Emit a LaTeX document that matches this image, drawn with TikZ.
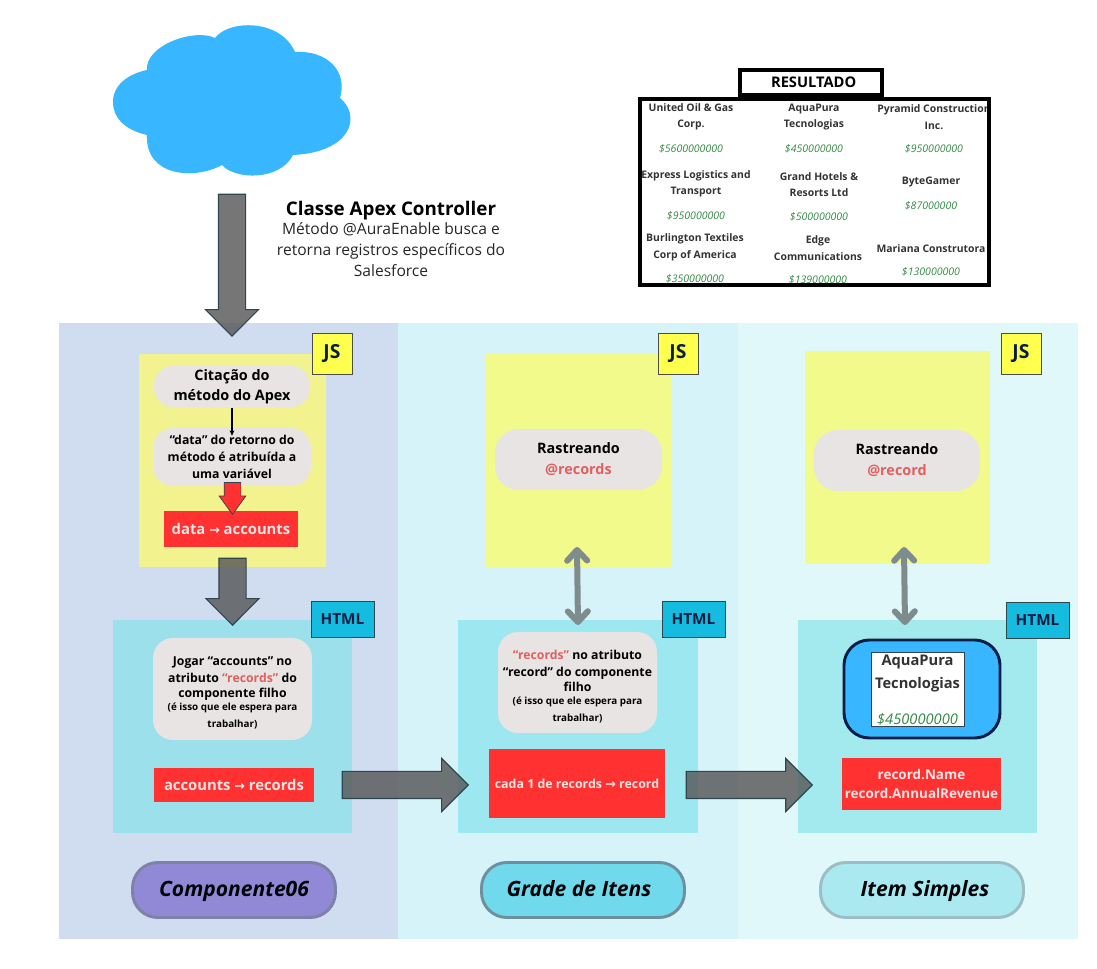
\documentclass[tikz,border=0pt]{standalone}
\usepackage{fontspec}
\setmainfont{Open Sans}
\newfontfamily\symfont{DejaVu Sans}
\usetikzlibrary{shapes.arrows,arrows.meta}
\definecolor{panelA}{HTML}{D0DCEF}
\definecolor{panelB}{HTML}{D5F3F9}
\definecolor{panelC}{HTML}{E0F8FA}
\definecolor{jsyellow}{HTML}{F2F28E}
\definecolor{jsyellowB}{HTML}{F2FA8C}
\definecolor{jstag}{HTML}{FFFF4D}
\definecolor{htmltag}{HTML}{16BCDF}
\definecolor{htmlboxA}{HTML}{9BE0EA}
\definecolor{htmlboxB}{HTML}{9DE8F0}
\definecolor{htmlboxC}{HTML}{A3EAEF}
\definecolor{bubblegray}{HTML}{E8E4E4}
\definecolor{redbox}{HTML}{FF3131}
\definecolor{redtext}{HTML}{E0605F}
\definecolor{redlight}{HTML}{F9E4E4}
\definecolor{skyblue}{HTML}{38B6FF}
\definecolor{darkedge}{HTML}{30454D}
\definecolor{navy}{HTML}{0A1E45}
\definecolor{moneygreen}{HTML}{338A44}
\definecolor{barbgray}{HTML}{7F8C8D}
\definecolor{compA}{HTML}{9188D6}
\definecolor{compAedge}{HTML}{7E82A8}
\definecolor{compB}{HTML}{70DAEC}
\definecolor{compBedge}{HTML}{6E8F9D}
\definecolor{compC}{HTML}{ABE9F1}
\definecolor{compCedge}{HTML}{9BBDC3}
\newcommand{\sized}[2]{\fontsize{#1}{#2}\selectfont}
\newcommand{\goes}{{\symfont\fontsize{9.5}{9.5}\selectfont →}}
\newcommand{\hint}{\sized{7.4}{9.75}}
\tikzset{sizebox/.style 2 args={rectangle, inner sep=0pt, minimum width=#1*0.75pt, minimum height=#2*0.75pt}}
\tikzset{bigarrow/.style 2 args={single arrow, anchor=tip, draw=darkedge, line width=0.8pt, fill=black!67, fill opacity=0.8, inner sep=0pt, inner ysep=#2*0.1875pt, minimum height=#1*0.75pt, single arrow head extend=#2*0.1875pt}}
\tikzstyle{bubble} = [fill=bubblegray, rounded corners=15pt, align=center, text=black, font=\bfseries\sized{9.2}{12.75}]
\tikzstyle{redlabel} = [fill=redbox, align=center, text=redlight, font=\bfseries\sized{11.1}{14}]
\tikzstyle{tagjs} = [fill=jstag, draw=black!70, line width=0.7pt, font=\bfseries\sized{14.5}{16}, text=navy]
\tikzstyle{taghtml} = [fill=htmltag, draw=darkedge, line width=0.7pt, font=\bfseries\sized{11.5}{14}, text=navy]
\tikzstyle{pill} = [rounded corners=19pt, line width=2.2pt, text height=12pt, text depth=3pt, font=\bfseries\itshape\sized{15.8}{18}, text=black!90!navy]
\tikzstyle{itemname} = [align=center, inner sep=0pt, text=black!80, font=\bfseries\sized{7.8}{12.4}]
\tikzstyle{itemvalue} = [inner sep=0pt, text=moneygreen, font=\itshape\sized{7.9}{9}]
\tikzstyle{link} = [line width=4.5pt, draw=barbgray, {Straight Barb[length=8pt,width=15pt,round]}-{Straight Barb[length=8pt,width=15pt,round]}]

\begin{document}
\begin{tikzpicture}[x=0.75pt,y=-0.75pt]
    \useasboundingbox (0,0) rectangle (1097,969);

    \node (panel-main) [sizebox={339}{616}, fill=panelA] at (228.5,631) {};
    \node (panel-grid) [sizebox={340}{616}, fill=panelB] at (568,631) {};
    \node (panel-item) [sizebox={340}{616}, fill=panelC] at (908,631) {};

    \fill [skyblue] (147,135) .. controls (125,130) and (113,118) .. (113,102)
        .. controls (113,85) and (128,74) .. (147,70)
        .. controls (145,45) and (195,28) .. (215,38)
        .. controls (228,20) and (280,18) .. (295,52)
        .. controls (328,50) and (348,72) .. (340,98)
        .. controls (361,115) and (353,152) .. (293,155)
        .. controls (280,181) and (235,180) .. (222,165)
        .. controls (195,180) and (145,177) .. (147,135) -- cycle;

    \node (arrow-apex) [bigarrow={142}{52}, rotate=-90] at (232,337) {};
    \node (apex-title) [font=\bfseries\sized{14.1}{16}, inner sep=0pt] at (391,211) {Classe Apex Controller};
    \node (apex-text) [align=center, font=\sized{11.7}{15.75}, inner sep=0pt, text=black!85] at (391,250) {Método @AuraEnable busca e\\retorna registros específicos do\\Salesforce};

    \node (result-title) [sizebox={142}{25}, draw, line width=2.3pt, font=\bfseries\sized{11}{12}] at (811,82.5) {\hspace{4pt}RESULTADO};
    \begin{scope}
        \clip (639,98) rectangle (990,284);
        \node (name-1) [itemname] at (691,117) {United Oil \& Gas\\Corp.};
        \node (value-1) [itemvalue] at (691,149) {\$5600000000};
        \node (name-2) [itemname] at (814,117) {AquaPura\\Tecnologias};
        \node (value-2) [itemvalue] at (814,149) {\$450000000};
        \node (name-3) [itemname] at (934,117) {Pyramid Construction\\Inc.};
        \node (value-3) [itemvalue] at (934,149) {\$950000000};
        \node (name-4) [itemname] at (696,184) {Express Logistics and\\Transport};
        \node (value-4) [itemvalue] at (696,216) {\$950000000};
        \node (name-5) [itemname] at (819,184.5) {Grand Hotels \&\\Resorts Ltd};
        \node (value-5) [itemvalue] at (819,217) {\$500000000};
        \node (name-6) [itemname] at (931,182) {ByteGamer};
        \node (value-6) [itemvalue] at (931,206) {\$87000000};
        \node (name-7) [itemname] at (695,247.5) {Burlington Textiles\\Corp of America};
        \node (value-7) [itemvalue] at (695,279) {\$350000000};
        \node (name-8) [itemname] at (818,248) {Edge\\Communications};
        \node (value-8) [itemvalue] at (818,280) {\$139000000};
        \node (name-9) [itemname] at (931,249) {Mariana Construtora};
        \node (value-9) [itemvalue] at (931,272) {\$130000000};
    \end{scope}
    \node (result-box) [sizebox={349}{186}, draw, line width=2.3pt] at (814.5,192) {};

    \node (js-main) [sizebox={187}{213}, fill=jsyellow] at (232.5,460.5) {};
    \node (tag-js-main) [sizebox={40}{41}, tagjs] at (332,353.5) {JS};
    \node (cite-apex) [sizebox={156}{42}, bubble, font=\bfseries\sized{10.8}{15}] at (232,386.5) {Citação do\\método do Apex};
    \node (data-var) [sizebox={158}{58}, bubble] at (232,457) {“data” do retorno do\\método é atribuída a\\uma variável};
    \draw [-{Stealth[length=4pt,width=3.5pt]}, line width=0.8pt, shorten >=-6pt] (cite-apex) -- (data-var);
    \node (data-accounts) [sizebox={134}{36}, redlabel] at (231,529) {data \goes{} accounts};
    \node (arrow-data) [single arrow, anchor=tip, draw=darkedge, line width=0.5pt, fill=redbox, inner sep=0pt, inner ysep=6pt, minimum height=32*0.75pt, single arrow head extend=5*0.75pt, single arrow tip angle=72, rotate=-90] at (232.5,515) {};

    \node (html-main) [sizebox={239}{213}, fill=htmlboxA] at (232.5,726.5) {};
    \node (arrow-down) [bigarrow={67}{52}, rotate=-90] at (232.5,626) {};
    \node (tag-html-main) [sizebox={63}{36}, taghtml] at (342.5,619) {HTML};
    \node (pass-accounts) [sizebox={159}{102}, bubble] at (232.5,689) {\rule{0pt}{13pt}Jogar “accounts” no\\atributo \textcolor{redtext}{“records”} do\\[-1.5pt]componente filho\\[-3pt]\hint (é isso que ele espera para\\\hint trabalhar)};
    \node (accounts-records) [sizebox={160}{34}, redlabel] at (234,785) {accounts \goes{} records};
    \node (comp-main) [sizebox={203}{55}, pill, draw=compAedge, fill=compA] at (234,890) {Componente06};

    \node (js-grid) [sizebox={186}{213}, fill=jsyellowB] at (578,460.5) {};
    \node (tag-js-grid) [sizebox={40}{41}, tagjs] at (678,353.5) {JS};
    \node (track-records) [sizebox={167}{61}, bubble, rounded corners=18pt, font=\bfseries\sized{10.8}{15.75}] at (578.5,459.5) {Rastreando\\\textcolor{redtext}{@records}};
    \node (html-grid) [sizebox={240}{213}, fill=htmlboxB] at (578,726.5) {};
    \node (tag-html-grid) [sizebox={63}{36}, taghtml] at (693.5,619) {HTML};
    \coordinate (grid-up) at (577,547);
    \coordinate (grid-down) at (578,625);
    \draw [link] (grid-up) -- (grid-down);
    \node (pass-records) [sizebox={159}{101}, bubble] at (577.5,682.5) {\rule{0pt}{13pt}\textcolor{redtext}{“records”} no atributo\\“record” do componente\\[-1.5pt]filho\\[-3pt]\hint (é isso que ele espera para\\\hint trabalhar)};
    \node (each-record) [sizebox={176}{69}, redlabel, font=\bfseries\sized{9.3}{12}] at (577,783.5) {cada 1 de records \goes{} record};
    \node (arrow-grid) [bigarrow={126}{52}] at (469,785) {};
    \node (comp-grid) [sizebox={203}{55}, pill, draw=compBedge, fill=compB] at (583,890) {\hspace{-6pt}Grade de Itens};

    \node (js-item) [sizebox={185}{213}, fill=jsyellowB] at (897.5,457.5) {};
    \node (tag-js-item) [sizebox={40}{41}, tagjs] at (1021,353.5) {JS};
    \node (track-record) [sizebox={166}{61}, bubble, rounded corners=18pt, font=\bfseries\sized{10.8}{15.75}] at (897,460.5) {Rastreando\\\textcolor{redtext}{@record}};
    \node (html-item) [sizebox={239}{213}, fill=htmlboxC] at (917.5,726.5) {};
    \node (tag-html-item) [sizebox={63}{36}, taghtml] at (1037.5,620) {HTML};
    \coordinate (item-up) at (904,547);
    \coordinate (item-down) at (905,625);
    \draw [link] (item-up) -- (item-down);
    \node (card-blue) [sizebox={156}{98}, fill=skyblue, draw=navy, line width=2.2pt, rounded corners=19pt] at (922,689) {};
    \node (card-white) [sizebox={93}{74}, fill=white, draw=darkedge, line width=0.5pt] at (917.5,689) {};
    \node (card-name) [align=center, inner sep=0pt, text=black!80, font=\bfseries\sized{11}{17}] at (917.5,673.5) {AquaPura\\Tecnologias};
    \node (card-value) [inner sep=0pt, text=moneygreen, font=\itshape\sized{11}{12}] at (917.5,719) {\$450000000};
    \node (record-fields) [sizebox={159}{52}, redlabel, font=\bfseries\sized{10.1}{14.25}] at (921.5,784) {record.Name\\record.AnnualRevenue};
    \node (arrow-item) [bigarrow={126}{52}] at (813,785) {};
    \node (comp-item) [sizebox={203}{55}, pill, draw=compCedge, fill=compC] at (922,890) {\hspace{4.5pt}Item Simples};
\end{tikzpicture}
\end{document}
